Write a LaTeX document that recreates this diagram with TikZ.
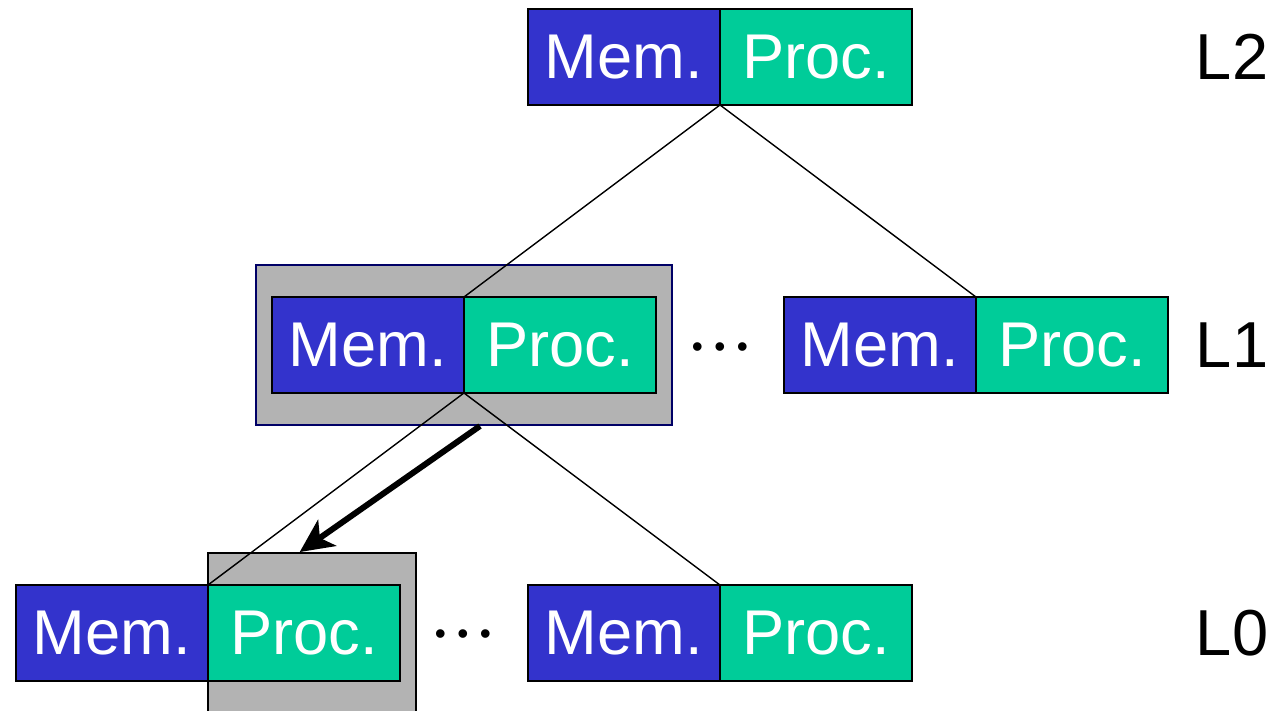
\documentclass[tikz,border=0pt]{standalone}
\usepackage{fontspec}
\setmainfont{Liberation Sans}
\usetikzlibrary{positioning,arrows.meta}
\definecolor{memblue}{HTML}{3333CC}
\definecolor{procgreen}{HTML}{00CC99}
\definecolor{shade}{HTML}{B3B3B3}
\definecolor{navy}{HTML}{000066}
\newcommand{\moredots}{\textbullet\hspace{6.5pt}\textbullet\hspace{6.5pt}\textbullet}

\begin{document}
\begin{tikzpicture}[x=0.02cm, y=0.02cm]
	\tikzstyle{half} = [rectangle, draw, line width=1.1pt, outer sep=0pt, inner sep=0pt, minimum width=3.84cm, minimum height=1.92cm, text=white, font=\fontsize{36}{44}\selectfont]
	\tikzstyle{mem} = [half, fill=memblue]
	\tikzstyle{proc} = [half, fill=procgreen]
	\tikzstyle{level} = [font=\fontsize{37}{44}\selectfont]
	\tikzstyle{more} = [inner sep=0pt, font=\fontsize{18}{20}\selectfont]

	\clip (0, 0) rectangle (1287, 710);

	\node[fill=shade, draw=navy, line width=1.1pt, minimum width=8.32cm, minimum height=3.2cm] (g1) at (464, 365) {};
	\node[fill=shade, draw, line width=1.1pt, minimum width=4.16cm, minimum height=3.34cm] (g0) at (312, 73.5) {};

	\foreach \name/\x/\y in {t/624/653, a/368/365, b/880/365, c/112/77, d/624/77} {
		\node[mem] (m\name) at (\x, \y) {Mem.};
		\node[proc, right=0pt of m\name] (p\name) {Proc.};
	}

	\node[more] (dots1) at (720, 360) {\moredots};
	\node[more] (dots0) at (463, 73) {\moredots};

	\node[level] (L2) at (1232, 653) {L2};
	\node[level] (L1) at (1232, 365) {L1};
	\node[level] (L0) at (1232, 77) {L0};

	\draw[line width=0.8pt] (mt.south east) -- (ma.north east);
	\draw[line width=0.8pt] (mt.south east) -- (mb.north east);
	\draw[line width=0.8pt] (ma.south east) -- (mc.north east);
	\draw[line width=0.8pt] (ma.south east) -- (md.north east);

	\coordinate (from) at (480, 284);
	\draw[line width=3.4pt, -{Stealth[length=19pt, width=18pt, inset=5pt]}] (from) -- ([xshift=-7]g0.north);
\end{tikzpicture}
\end{document}
